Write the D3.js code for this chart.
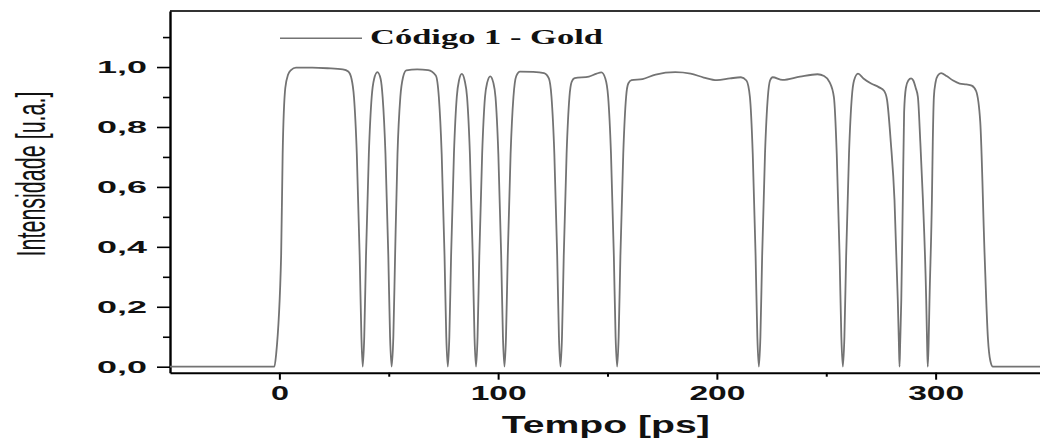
<!DOCTYPE html>
<html>
<head>
<meta charset="utf-8">
<script src="https://cdn.jsdelivr.net/npm/d3@7"></script>
<style>
  body { margin: 0; background: #fff; }
  svg { display: block; }
</style>
</head>
<body>
<script>
// pulse train, time in ps
const timePs = [
  -50, -2.3, -1.5, 0.8, 1.5, 2.7, 4.0, 5.3, 7.6, 15, 22, 29, 31.5, 33,
  34.1, 35.4, 36.7, 37.5, 38.1, 38.8, 39.6, 40.9, 42.2,
  43.3, 44.8, 46.3, 47.2,
  48.5, 49.8, 50.6, 51.3, 52.1, 52.9, 54.0, 55.3,
  56.5, 58, 63, 68, 71.5,
  72.9, 74.2, 75.5, 76.3, 77.0, 77.7, 78.5, 79.8, 81.1,
  82.1, 83.4, 84.7,
  85.8, 87.1, 88.4, 89.2, 89.9, 90.6, 91.4, 92.7, 94.0,
  95.0, 96.4, 97.8,
  98.8, 100.1, 101.4, 102.2, 102.9, 103.6, 104.4, 105.7, 107.0,
  108.3, 110, 116, 121, 123.2,
  124.4, 125.7, 127.0, 127.8, 128.5, 129.2, 130.0, 131.3, 132.6,
  133.6, 135, 141.5, 145, 147.2, 149,
  150.3, 151.6, 152.9, 153.7, 154.4, 155.1, 155.9, 157.2, 158.5,
  159.5, 161, 166, 172, 181, 188, 194, 200, 206, 211, 213.5,
  215.1, 216.4, 217.7, 218.5, 219.2, 219.9, 220.7, 222.0, 223.3,
  224.3, 225.5, 230, 238, 246, 249, 251.5,
  253.5, 254.8, 256.1, 256.9, 257.6, 258.3, 259.1, 260.4, 261.7,
  262.7, 264.5, 267, 270.5, 274, 276.5,
  277.8, 279.5, 281.2, 282.7, 283.2, 283.5, 283.8, 284.3, 285.0, 285.6,
  286.4, 287.5, 288.8, 289.8, 290.9,
  291.9, 293.0, 294.2, 295.7, 296.1, 296.4, 296.8, 297.2, 298.3, 298.7, 299.2,
  300, 301, 302.5, 305, 308, 311, 314, 316.5, 318.5,
  320.4, 322.4, 323.9, 325, 326.2, 350
];
const intensity = [
  0, 0, 0.04, 0.37, 0.71, 0.93, 0.975, 0.99, 0.998, 0.998, 0.996, 0.992, 0.985, 0.96,
  0.9, 0.71, 0.37, 0.1, 0, 0.1, 0.37, 0.71, 0.9,
  0.96, 0.983, 0.96, 0.9,
  0.71, 0.37, 0.1, 0, 0.1, 0.37, 0.71, 0.9,
  0.965, 0.989, 0.992, 0.99, 0.972,
  0.9, 0.71, 0.37, 0.1, 0, 0.1, 0.37, 0.71, 0.9,
  0.955, 0.977, 0.955,
  0.9, 0.71, 0.37, 0.1, 0, 0.1, 0.37, 0.71, 0.9,
  0.948, 0.969, 0.948,
  0.9, 0.71, 0.37, 0.1, 0, 0.1, 0.37, 0.71, 0.9,
  0.97, 0.985, 0.984, 0.98, 0.962,
  0.9, 0.71, 0.37, 0.1, 0, 0.1, 0.37, 0.71, 0.9,
  0.95, 0.963, 0.968, 0.978, 0.982, 0.962,
  0.9, 0.71, 0.37, 0.1, 0, 0.1, 0.37, 0.71, 0.9,
  0.945, 0.956, 0.96, 0.975, 0.983, 0.978, 0.965, 0.956, 0.962, 0.966, 0.955,
  0.9, 0.71, 0.37, 0.1, 0, 0.1, 0.37, 0.71, 0.9,
  0.955, 0.966, 0.957, 0.968, 0.976, 0.97, 0.95,
  0.9, 0.71, 0.37, 0.1, 0, 0.1, 0.37, 0.71, 0.9,
  0.955, 0.978, 0.962, 0.945, 0.933, 0.92,
  0.89, 0.75, 0.556, 0.222, 0.08, 0, 0.08, 0.222, 0.556, 0.85,
  0.93, 0.955, 0.962, 0.955, 0.93,
  0.9, 0.75, 0.556, 0.222, 0.08, 0, 0.08, 0.222, 0.556, 0.75, 0.9,
  0.95, 0.972, 0.98, 0.97, 0.955, 0.945, 0.942, 0.938, 0.92,
  0.817, 0.372, 0.096, 0.02, 0, 0
];

const yMajorTicks = [0, 0.2, 0.4, 0.6, 0.8, 1.0];
const yMinorTicks = [0.1, 0.3, 0.5, 0.7, 0.9, 1.1];
const xMajorTicks = [0, 100, 200, 300];
const xMinorTicks = [50, 150, 250];
const legendLabel = "Código 1 - Gold";
const xTitle = "Tempo [ps]";
const yTitle = "Intensidade [u.a.]";

const width = 1040, height = 438;
const sans = "'Liberation Sans', Arial, sans-serif";
const serif = "'Liberation Serif', 'Times New Roman', serif";

let svg = d3.select("body").append("svg")
    .attr("width", width)
    .attr("height", height);

const x = d3.scaleLinear().domain([-50, 350]).range([170, 1045]);
const y = d3.scaleLinear().domain([-0.02, 1.187]).range([372.7, 11]);

const points = timePs.map((t, i) => [t, intensity[i]]);

// frame top
svg.append("line")
    .attr("x1", 170).attr("x2", 1045)
    .attr("y1", y.range()[1]).attr("y2", y.range()[1])
    .attr("stroke", "#333").attr("stroke-width", 2);

// y axis
svg.append("g")
    .attr("transform", "translate(170,0)")
    .call(d3.axisLeft(y).tickValues(yMinorTicks).tickSize(7).tickFormat("").tickSizeOuter(0))
    .call(g => g.select(".domain").remove())
    .call(g => g.selectAll("line").attr("stroke-width", 1.6));

let gY = svg.append("g")
    .attr("transform", "translate(170,0)")
    .call(d3.axisLeft(y).tickValues(yMajorTicks).tickSize(13).tickPadding(10)
        .tickFormat(d => d3.format(".1f")(d).replace(".", ",")).tickSizeOuter(0));
gY.select(".domain").attr("stroke-width", 2.4);
gY.selectAll("line").attr("stroke-width", 1.6);
gY.selectAll("text")
    .attr("font-family", sans).attr("font-weight", "bold").attr("font-size", 17)
    .attr("fill", "#111")
    .attr("textLength", 50).attr("lengthAdjust", "spacingAndGlyphs");

// x axis
svg.append("g")
    .attr("transform", `translate(0,${y.range()[0]})`)
    .call(d3.axisBottom(x).tickValues(xMinorTicks).tickSize(4).tickFormat("").tickSizeOuter(0))
    .call(g => g.select(".domain").remove())
    .call(g => g.selectAll("line").attr("stroke-width", 2));

let gX = svg.append("g")
    .attr("transform", `translate(0,${y.range()[0]})`)
    .call(d3.axisBottom(x).tickValues(xMajorTicks).tickSize(7).tickPadding(5)
        .tickFormat(d3.format("d")).tickSizeOuter(0));
gX.select(".domain").attr("stroke-width", 2);
gX.selectAll("line").attr("stroke-width", 2);
gX.selectAll("text")
    .attr("font-family", sans).attr("font-weight", "bold").attr("font-size", 21)
    .attr("fill", "#111")
    .attr("textLength", d => d === 0 ? 18 : 56).attr("lengthAdjust", "spacingAndGlyphs");

// signal
svg.append("path")
    .datum(points)
    .attr("fill", "none")
    .attr("stroke", "#737373")
    .attr("stroke-width", 1.8)
    .attr("stroke-linejoin", "round")
    .attr("d", d3.line().x(d => x(d[0])).y(d => y(d[1])).curve(d3.curveMonotoneX));

// legend
svg.append("line")
    .attr("x1", 280).attr("x2", 362).attr("y1", 38.3).attr("y2", 38.3)
    .attr("stroke", "#737373").attr("stroke-width", 1.5);
svg.append("text")
    .attr("x", 370).attr("y", 44.3)
    .attr("font-family", serif).attr("font-weight", "bold").attr("font-size", 22)
    .attr("fill", "#111")
    .attr("textLength", 233).attr("lengthAdjust", "spacingAndGlyphs")
    .text(legendLabel);

// titles
svg.append("text")
    .attr("x", 501.7).attr("y", 433.3)
    .attr("font-family", sans).attr("font-weight", "bold").attr("font-size", 23)
    .attr("fill", "#111")
    .attr("textLength", 208).attr("lengthAdjust", "spacingAndGlyphs")
    .text(xTitle);

// y title: narrow and tall, like the picture
svg.append("text")
    .attr("transform", "translate(44.5,174) scale(1.85,1) rotate(-90)")
    .attr("text-anchor", "middle")
    .attr("font-family", sans).attr("font-size", 21.5)
    .attr("fill", "#111")
    .text(yTitle);
</script>
</body>
</html>
